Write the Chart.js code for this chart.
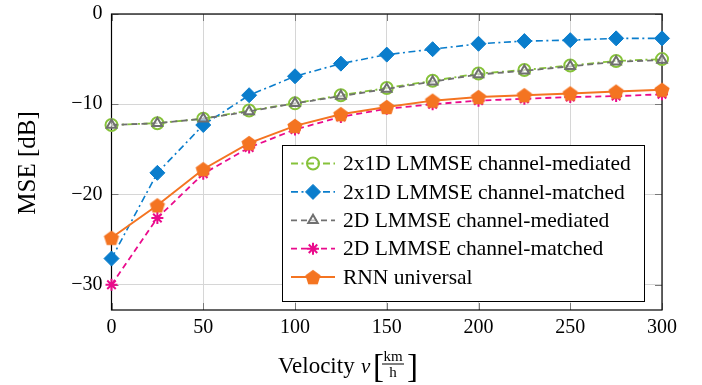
<!DOCTYPE html>
<html>
<head>
<meta charset="utf-8">
<script src="https://cdn.jsdelivr.net/npm/chart.js@4/dist/chart.umd.min.js"></script>
<style>
  html, body { margin: 0; padding: 0; background: #fff; }
  #wrap { width: 702px; height: 385px; position: relative; }
</style>
</head>
<body>
<div id="wrap"><canvas id="mseChart"></canvas></div>
<script>
// velocities in km/h
const velocities = [0, 25, 50, 75, 100, 125, 150, 175, 200, 225, 250, 275, 300];
const xTicks = [0, 50, 100, 150, 200, 250, 300];
const yTicks = [0, -10, -20, -30];

const seriesLabels = [
  '2x1D LMMSE channel-mediated',
  '2x1D LMMSE channel-matched',
  '2D LMMSE channel-mediated',
  '2D LMMSE channel-matched',
  'RNN universal'
];

// MSE in dB
const mediated2x1D = [-12.3, -12.1, -11.6, -10.7, -9.9, -9.0, -8.2, -7.4, -6.6, -6.2, -5.7, -5.2, -5.0];
const matched2x1D  = [-27.1, -17.6, -12.3, -9.0, -6.9, -5.5, -4.5, -3.9, -3.3, -3.0, -2.9, -2.7, -2.7];
const mediated2D   = [-12.3, -12.1, -11.6, -10.8, -9.9, -9.1, -8.3, -7.5, -6.7, -6.3, -5.8, -5.3, -5.1];
const matched2D    = [-30.0, -22.6, -17.7, -14.8, -12.8, -11.4, -10.5, -10.0, -9.6, -9.4, -9.2, -9.1, -8.9];
const rnnUniversal = [-24.8, -21.2, -17.2, -14.3, -12.4, -11.1, -10.3, -9.6, -9.2, -9.0, -8.8, -8.6, -8.4];

const serif = "'Liberation Serif', 'Times New Roman', serif";

// filled pentagon marker for the RNN curve
function makePentagon(color, r) {
  const size = Math.ceil(r * 2 + 2);
  const c = document.createElement('canvas');
  c.width = size; c.height = size;
  const g = c.getContext('2d');
  const cx = size / 2, cy = size / 2 + 0.8;
  g.beginPath();
  for (let k = 0; k < 5; k++) {
    const a = -Math.PI / 2 + k * 2 * Math.PI / 5;
    const px = cx + r * Math.cos(a), py = cy + r * Math.sin(a);
    if (k === 0) g.moveTo(px, py); else g.lineTo(px, py);
  }
  g.closePath();
  g.fillStyle = color;
  g.fill();
  return c;
}

function toPoints(values) {
  return velocities.map((v, i) => ({ x: v, y: values[i] }));
}

const green = '#86c23a';
const blue = '#0a7dcc';
const gray = '#707070';
const pink = '#ea0b8c';
const orange = '#f47421';

const datasets = [
  {
    label: seriesLabels[0], data: toPoints(mediated2x1D),
    borderColor: green, borderWidth: 1.8, borderDash: [7, 3.5, 2, 3.5],
    pointStyle: 'circle', pointRadius: 6, pointBorderWidth: 2,
    pointBackgroundColor: 'rgba(0,0,0,0)', pointBorderColor: green, order: 4
  },
  {
    label: seriesLabels[1], data: toPoints(matched2x1D),
    borderColor: blue, borderWidth: 1.6, borderDash: [7, 3.5, 2, 3.5],
    pointStyle: 'rectRot', pointRadius: 7.5, pointBorderWidth: 1,
    pointBackgroundColor: blue, pointBorderColor: blue, order: 3
  },
  {
    label: seriesLabels[2], data: toPoints(mediated2D),
    borderColor: gray, borderWidth: 1.8, borderDash: [6, 4],
    pointStyle: 'triangle', pointRadius: 5.5, pointBorderWidth: 2,
    pointBackgroundColor: 'rgba(255,255,255,0.55)', pointBorderColor: gray, order: 2
  },
  {
    label: seriesLabels[3], data: toPoints(matched2D),
    borderColor: pink, borderWidth: 1.8, borderDash: [6, 4],
    pointStyle: 'star', pointRadius: 6, pointBorderWidth: 2,
    pointBackgroundColor: pink, pointBorderColor: pink, order: 1
  },
  {
    label: seriesLabels[4], data: toPoints(rnnUniversal),
    borderColor: orange, borderWidth: 2, borderDash: [],
    pointStyle: makePentagon(orange, 8), pointRadius: 8,
    pointBackgroundColor: orange, pointBorderColor: orange, order: 0
  }
];
datasets.forEach(d => { d.fill = false; d.tension = 0; d.clip = false; });

// frame with inward ticks, drawn under the data
const framePlugin = {
  id: 'framePlugin',
  beforeDatasetsDraw(chart) {
    const { ctx, chartArea: a, scales } = chart;
    ctx.save();
    ctx.strokeStyle = '#7a7a7a';
    ctx.lineWidth = 1;
    const tl = 7;
    xTicks.forEach(v => {
      const px = Math.round(scales.x.getPixelForValue(v)) + 0.5;
      ctx.beginPath();
      ctx.moveTo(px, a.bottom); ctx.lineTo(px, a.bottom - tl);
      ctx.moveTo(px, a.top); ctx.lineTo(px, a.top + tl);
      ctx.stroke();
    });
    yTicks.forEach(v => {
      const py = Math.round(scales.y.getPixelForValue(v)) + 0.5;
      ctx.beginPath();
      ctx.moveTo(a.left, py); ctx.lineTo(a.left + tl, py);
      ctx.moveTo(a.right, py); ctx.lineTo(a.right - tl, py);
      ctx.stroke();
    });
    ctx.strokeStyle = '#000';
    ctx.lineWidth = 1.2;
    ctx.strokeRect(a.left, a.top, a.right - a.left, a.bottom - a.top);
    ctx.restore();
  }
};

// legend box + axis titles, drawn on top
const overlayPlugin = {
  id: 'overlayPlugin',
  afterDraw(chart) {
    const { ctx } = chart;
    ctx.save();

    // legend
    const bx = 282, by = 145, bw = 362, bh = 156, rowH = 28.4;
    ctx.fillStyle = '#fff';
    ctx.fillRect(bx, by, bw, bh);
    ctx.strokeStyle = '#000';
    ctx.lineWidth = 1;
    ctx.strokeRect(bx + 0.5, by + 0.5, bw, bh);
    chart.data.datasets.forEach((ds, i) => {
      const cy = by + 18.5 + i * rowH;
      ctx.save();
      ctx.strokeStyle = ds.borderColor;
      ctx.lineWidth = ds.borderWidth;
      ctx.setLineDash(ds.borderDash);
      ctx.beginPath();
      ctx.moveTo(291, cy); ctx.lineTo(335, cy);
      ctx.stroke();
      ctx.restore();
      const opts = {
        pointStyle: ds.pointStyle, radius: ds.pointRadius, rotation: 0,
        borderWidth: ds.pointBorderWidth || 1
      };
      ctx.save();
      ctx.fillStyle = ds.pointBackgroundColor;
      ctx.strokeStyle = ds.pointBorderColor;
      ctx.lineWidth = opts.borderWidth;
      Chart.helpers.drawPoint(ctx, opts, 313, cy);
      ctx.restore();
      ctx.fillStyle = '#000';
      ctx.font = '21.5px ' + serif;
      ctx.textBaseline = 'middle';
      ctx.textAlign = 'left';
      ctx.fillText(ds.label, 343, cy + 1);
    });

    // y-axis title
    ctx.save();
    ctx.translate(28, 163);
    ctx.rotate(-Math.PI / 2);
    ctx.font = '25px ' + serif;
    ctx.textAlign = 'center';
    ctx.textBaseline = 'middle';
    ctx.fillStyle = '#000';
    ctx.fillText('MSE [dB]', 0, 0);
    ctx.restore();

    // x-axis title: Velocity v [km/h]
    const base = 372.5;
    ctx.fillStyle = '#000';
    ctx.textBaseline = 'alphabetic';
    ctx.textAlign = 'left';
    ctx.font = '23px ' + serif;
    ctx.fillText('Velocity', 278, base);
    ctx.font = 'italic 21px ' + serif;
    ctx.fillText('v', 361, base);
    ctx.font = '300 33px ' + serif;
    ctx.fillText('[', 373, base + 4);
    ctx.fillText(']', 407, base + 4);
    ctx.font = '15px ' + serif;
    ctx.textAlign = 'center';
    ctx.fillText('km', 393, 360.5);
    ctx.fillText('h', 393, 377);
    ctx.fillRect(382, 363.5, 22, 1);
    ctx.restore();
  }
};

new Chart(document.getElementById('mseChart').getContext('2d'), {
  type: 'line',
  data: { datasets: datasets },
  options: {
    responsive: true,
    maintainAspectRatio: false,
    animation: false,
    layout: { padding: { top: 14, right: 40, left: 0, bottom: 0 } },
    plugins: { legend: { display: false }, tooltip: { enabled: false } },
    scales: {
      x: {
        type: 'linear', min: 0, max: 300,
        afterBuildTicks: s => { s.ticks = xTicks.map(v => ({ value: v })); },
        afterFit: s => { s.height = 75; s.paddingLeft = 0; s.paddingRight = 0; },
        grid: { color: '#d6d6d6', lineWidth: 1, drawTicks: false },
        border: { display: false },
        ticks: { padding: 6, color: '#000', font: { family: serif, size: 20 }, maxRotation: 0 }
      },
      y: {
        type: 'linear', min: -32.8, max: 0,
        afterBuildTicks: s => { s.ticks = yTicks.map(v => ({ value: v })); },
        afterFit: s => { s.width = 111.5; s.paddingTop = 0; s.paddingBottom = 0; },
        grid: { color: '#d6d6d6', lineWidth: 1, drawTicks: false },
        border: { display: false },
        ticks: {
          padding: 9, color: '#000', font: { family: serif, size: 20 },
          callback: v => (v < 0 ? '\u2212' + Math.abs(v) : String(v))
        }
      }
    }
  },
  plugins: [framePlugin, overlayPlugin]
});
</script>
</body>
</html>
